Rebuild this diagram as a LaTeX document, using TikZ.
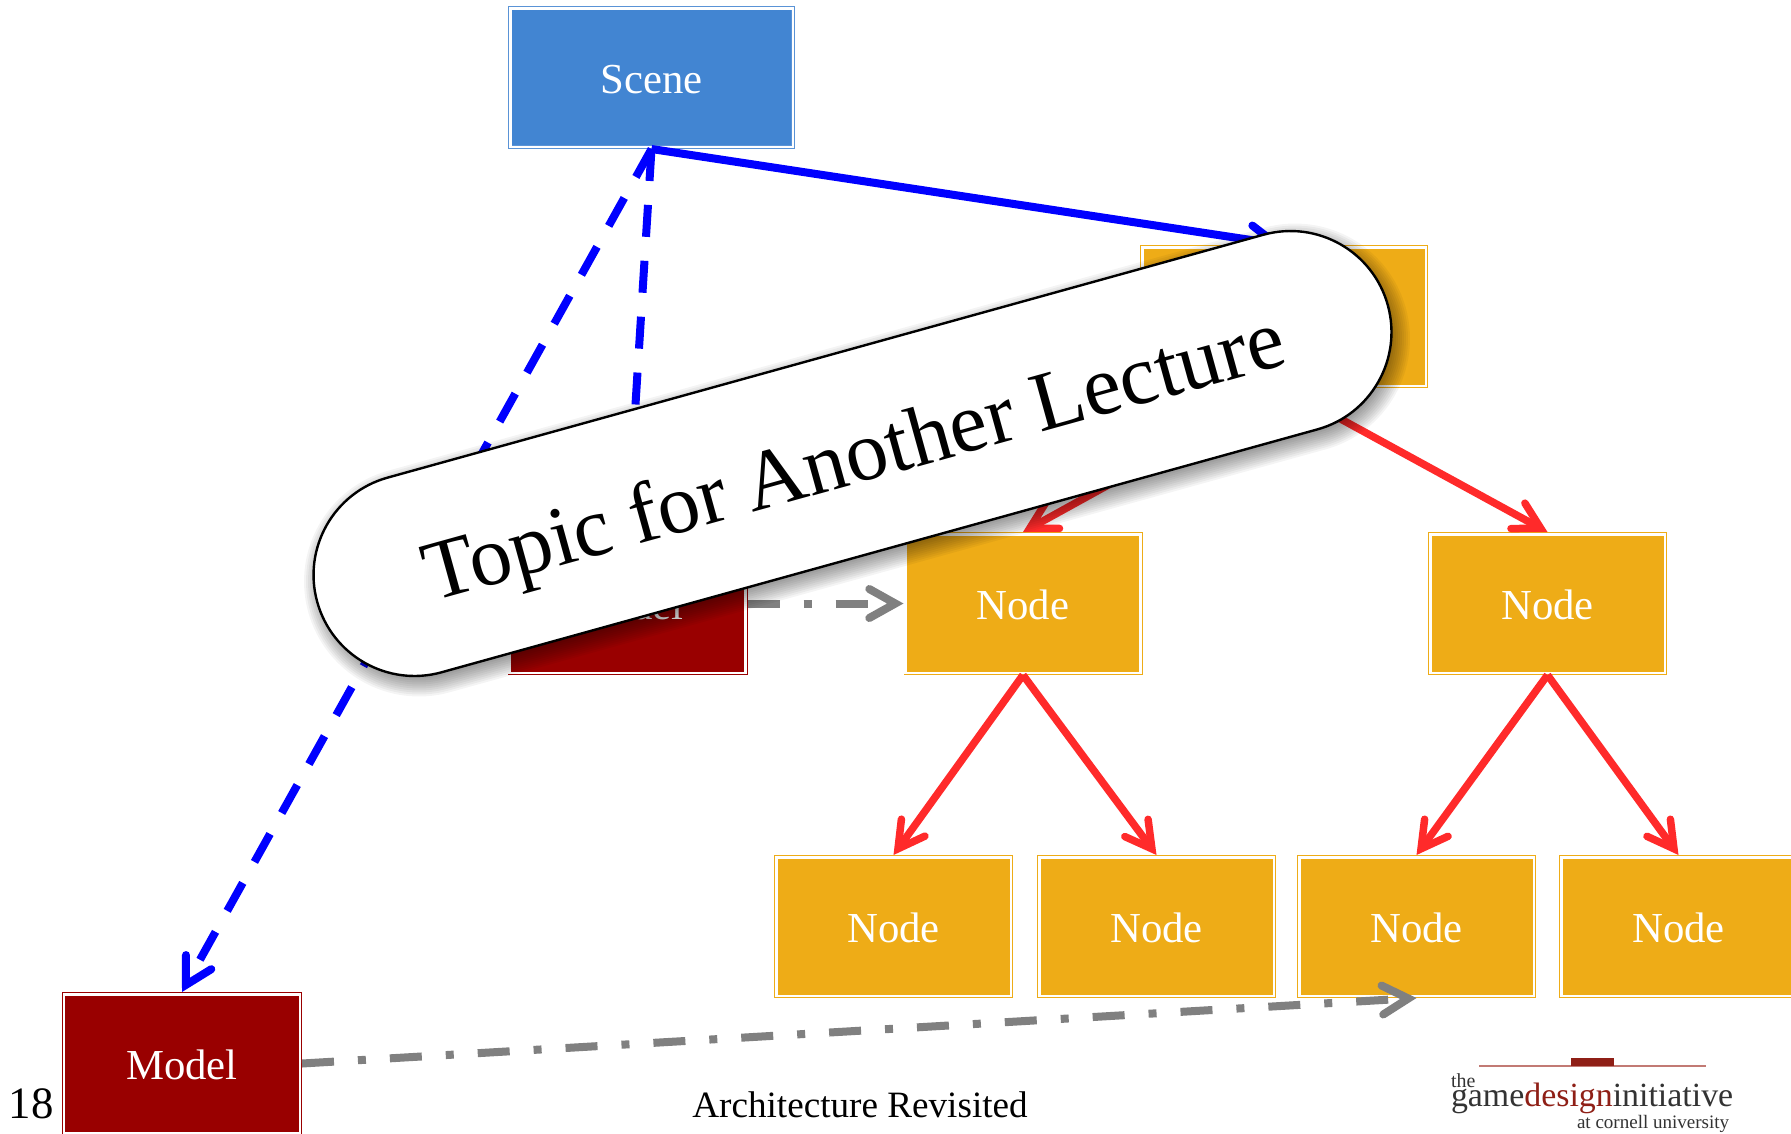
\documentclass[tikz,border=0pt]{standalone}
\usepackage{fontspec}
\setmainfont{Liberation Serif}
\usetikzlibrary{arrows.meta,shapes.misc}
\definecolor{sceneblue}{HTML}{4285D2}
\definecolor{sceneedge}{HTML}{5A93D6}
\definecolor{nodegold}{HTML}{EEAC17}
\definecolor{modelred}{HTML}{990000}
\definecolor{linkblue}{HTML}{0000FF}
\definecolor{linkred}{HTML}{FF2A2A}
\definecolor{linkgray}{HTML}{808080}
\definecolor{logored}{HTML}{8F1F16}
\definecolor{logorule}{HTML}{C27A74}
\definecolor{logotext}{HTML}{333333}
\tikzset{
  x=1bp,y=-1bp,
  box/.style={rectangle,outer sep=2.2bp,inner sep=0pt,text=white,
    double=white,double distance=2.6bp,line width=.9bp,
    text height=31.6bp,text depth=0pt,
    font=\fontsize{42.9}{50}\selectfont},
  scenebox/.style={box,draw=sceneedge,fill=sceneblue,minimum width=282.6bp,minimum height=138.6bp},
  goldbox/.style={box,draw=nodegold,fill=nodegold,minimum width=234.6bp,minimum height=138.6bp},
  goldtop/.style={goldbox,minimum width=283.6bp},
  redbox/.style={box,draw=modelred,fill=modelred,minimum width=235.6bp,minimum height=138.6bp},
  arrowtip/.tip={Straight Barb[length=26bp,width=29bp,line cap=round,line join=miter]},
  solidlink/.style={line width=8bp,-{arrowtip},color=linkblue},
  dashlink/.style={line width=8bp,-{arrowtip},color=linkblue,dash pattern=on 32bp off 24bp},
  treelink/.style={line width=7.5bp,-{arrowtip},color=linkred},
  graylink/.style={line width=8bp,-{arrowtip},color=linkgray,dash pattern=on 32bp off 24bp on 8bp off 24bp},
  pill/.style={rounded rectangle,rounded rectangle arc length=180,draw=black,line width=2.4bp,fill=white,
    minimum width=1111bp,minimum height=202bp,inner sep=0pt,rotate=15.5},
  pilltext/.style={inner sep=0pt,rotate=15.5,font=\fontsize{85}{90}\selectfont,text=black},
  footer/.style={inner sep=0pt,outer sep=0pt,text=black,anchor=base},
  logofont/.style={inner sep=0pt,outer sep=0pt,text=logotext,anchor=base west},
}
\begin{document}
\begin{tikzpicture}
\useasboundingbox (0,0) rectangle (1791,1133);
\fill[white] (0,0) rectangle (1791,1133);
\clip (0,0) rectangle (1791,1133);

% boxes
\node[scenebox] (scene) at (651.5,77.5) {Scene};
\node[goldtop] (root) at (1284,316.5) {Node};
\node[redbox] (midmodel) at (627.5,603.5) {Model};
\node[goldbox] (midl) at (1023,603.5) {Node};
\node[goldbox] (midr) at (1547.5,603.5) {Node};
\node[goldbox] (leafa) at (893.5,926.5) {Node};
\node[goldbox] (leafb) at (1156.5,926.5) {Node};
\node[goldbox] (leafc) at (1416.5,926.5) {Node};
\node[goldbox] (leafd) at (1678.5,926.5) {Node};
\node[redbox] (model) at (182,1063.5) {Model};

% connectors
\draw[solidlink] (scene.south) -- (root.north);
\draw[dashlink] (scene.south) -- (midmodel.north);
\draw[dashlink] (scene.south) -- (model.north);
\draw[treelink] (root.south) -- (midl.north);
\draw[treelink] (root.south) -- (midr.north);
\draw[treelink] (midl.south) -- (leafa.north);
\draw[treelink] (midl.south) -- (leafb.north);
\draw[treelink] (midr.south) -- (leafc.north);
\draw[treelink] (midr.south) -- (leafd.north);
\draw[graylink] (midmodel.east) -- (midl.west);
\draw[graylink] (model.east) -- (leafc.south);

% soft shadow of the label
\begin{scope}[shift={(857,460)},rotate=15.5]
  \foreach \g in {14,12,10,8,6,4,2,0,-2,-4,-6,-8}{
    \fill[black,opacity=.045,rounded corners=\the\numexpr 101+\g\relax bp]
      (-555.5-\g,-101-\g) rectangle (555.5+\g,101+\g);
  }
\end{scope}

% label
\node[pill] (topic) at (852.5,453.5) {};
\node[pilltext] (topictext) at (855.5,462.5) {Topic for Another Lecture};

% footer
\node[footer,font=\fontsize{45}{50}\selectfont] (pageno) at (31,1118) {18};
\node[footer,font=\fontsize{37.3}{44}\selectfont] (title) at (860,1117) {Architecture Revisited};

% logo
\fill[logorule] (1479,1065) rectangle (1706,1067);
\fill[logored] (1571,1058) rectangle (1614,1066);
\node[logofont,font=\fontsize{20}{24}\selectfont] (logothe) at (1451,1087) {the};
\node[logofont,font=\fontsize{34}{38}\selectfont] (logomain) at (1451,1106) {game\textcolor{logored}{design}initiative};
\node[logofont,font=\fontsize{19.1}{24}\selectfont] (logosub) at (1577,1128) {at cornell university};
\end{tikzpicture}
\end{document}
